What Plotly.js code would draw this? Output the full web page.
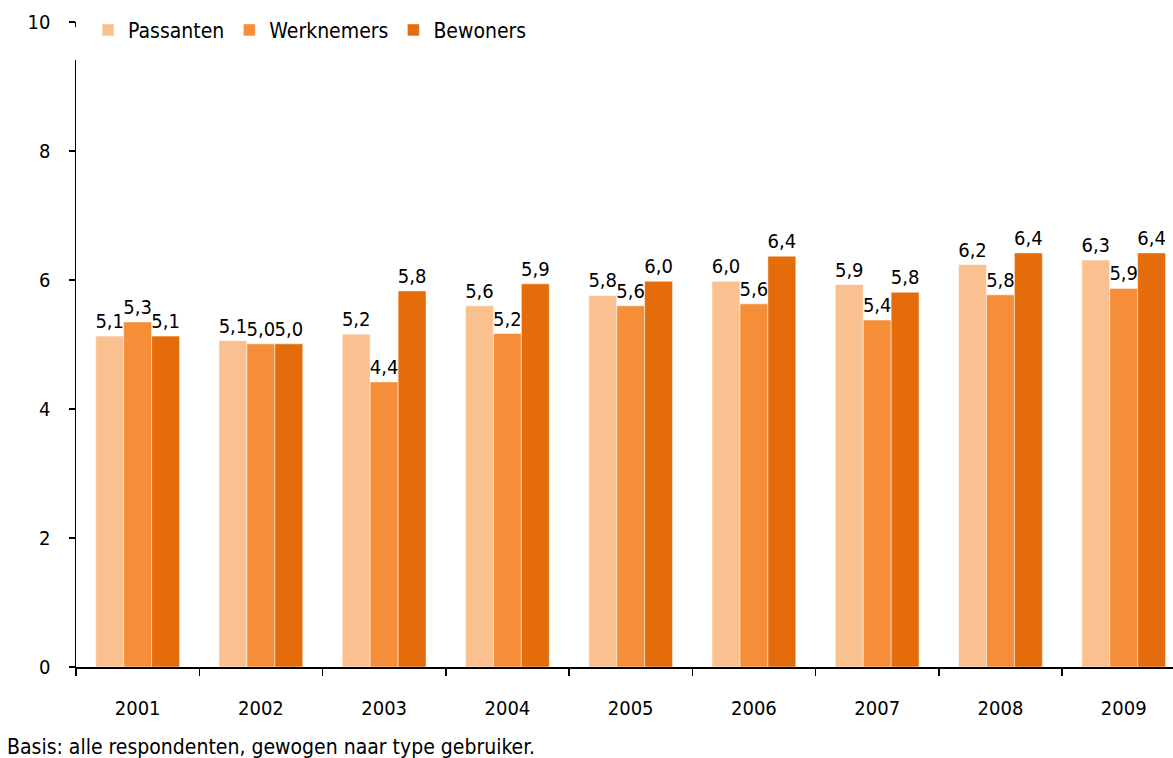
<!DOCTYPE html>
<html>
<head>
<meta charset="utf-8">
<script src="https://cdn.plot.ly/plotly-3.0.1.min.js"></script>
<style>html,body{margin:0;padding:0;background:#fff;}#chart{width:1173px;height:758px;}</style>
</head>
<body>
<div id="chart"></div>
<script>
const years = ['2001','2002','2003','2004','2005','2006','2007','2008','2009'];
const passanten  = [5.13, 5.06, 5.16, 5.60, 5.76, 5.98, 5.93, 6.24, 6.31];
const werknemers = [5.35, 5.01, 4.42, 5.17, 5.60, 5.63, 5.38, 5.77, 5.87];
const bewoners   = [5.13, 5.01, 5.83, 5.94, 5.98, 6.37, 5.81, 6.42, 6.42];
const seriesNames = ['Passanten', 'Werknemers', 'Bewoners'];
const yTicks = [0, 2, 4, 6, 8, 10];
const footnote = 'Basis: alle respondenten, gewogen naar type gebruiker.';

const FONT = 'DejaVu Sans Condensed, DejaVu Sans, sans-serif';
const colors = ['#FAC090', '#F68D38', '#E46C0A'];
const data = [passanten, werknemers, bewoners].map((vals, i) => ({
  type: 'bar',
  name: seriesNames[i],
  x: years,
  y: vals,
  marker: {color: colors[i], line: {color: 'rgba(255,255,255,0.5)', width: 1}},
  texttemplate: '%{y:.1f}',
  textposition: 'outside',
  constraintext: 'none',
  cliponaxis: false,
  textfont: {family: FONT, size: 20, color: '#000'},
  hoverinfo: 'x+y+name'
}));

const layout = {
  width: 1173, height: 758,
  margin: {l: 76, r: 0, t: 22, b: 91},
  paper_bgcolor: '#fff', plot_bgcolor: '#fff',
  separators: ',.',
  font: {family: FONT, size: 20, color: '#000'},
  barmode: 'group',
  bargap: 0.32,
  bargroupgap: 0,
  showlegend: true,
  legend: {
    orientation: 'h', x: 0.011, xanchor: 'left', y: 1.019, yanchor: 'top',
    bgcolor: 'rgba(0,0,0,0)', font: {family: FONT, size: 21, color: '#000'},
    itemwidth: 30, traceorder: 'normal'
  },
  xaxis: {
    type: 'category', range: [-0.5, 8.40],
    showline: true, linecolor: '#000', linewidth: 1.5,
    ticks: 'outside', tickson: 'boundaries', ticklen: 7, tickcolor: '#000', tickwidth: 1.5,
    ticklabelstandoff: 22,
    showgrid: false, zeroline: false,
    tickfont: {family: FONT, size: 20, color: '#000'}
  },
  yaxis: {
    range: [0, 10], tickvals: yTicks, ticktext: yTicks.map(String),
    showline: true, linecolor: '#000', linewidth: 1.5,
    ticks: 'outside', ticklen: 6, tickcolor: '#000', tickwidth: 1.5,
    ticklabelstandoff: 14,
    showgrid: false, zeroline: false,
    tickfont: {family: FONT, size: 20, color: '#000'}
  },
  shapes: [{
    type: 'rect', layer: 'above', xref: 'paper', yref: 'y',
    x0: -0.004, x1: 0.004, y0: 9.41, y1: 9.92,
    fillcolor: '#fff', line: {width: 0}
  }],
  annotations: [{
    text: footnote, xref: 'paper', yref: 'paper', x: -0.0648, y: -0.124,
    xanchor: 'left', yanchor: 'middle', showarrow: false,
    font: {family: FONT, size: 21, color: '#000'}
  }]
};

Plotly.newPlot('chart', data, layout, {displayModeBar: false, staticPlot: true});
</script>
</body>
</html>
